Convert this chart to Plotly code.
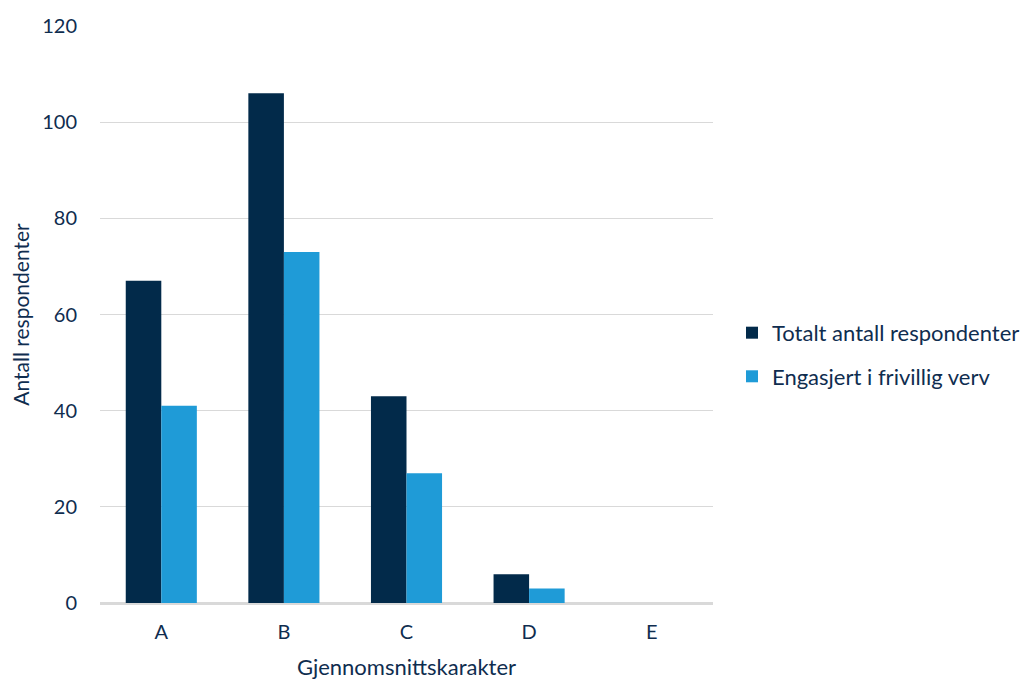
import plotly.graph_objects as go

categories = ["A", "B", "C", "D", "E"]
totalt = [67, 106, 43, 6, 0]
engasjert = [41, 73, 27, 3, 0]
series_names = ["Totalt antall respondenter", "Engasjert i frivillig verv"]
colors = ["#022a4a", "#1f9bd7"]
text_color = "#0f2d4f"
font_family = "Lato, 'Open Sans', sans-serif"

fig = go.Figure()
fig.add_trace(go.Bar(x=categories, y=totalt, name=series_names[0],
                     marker=dict(color=colors[0], line=dict(width=0)),
                     legendgroup="g1"))
fig.add_trace(go.Bar(x=categories, y=engasjert, name=series_names[1],
                     marker=dict(color=colors[1], line=dict(width=0)),
                     legendgroup="g2"))

fig.update_layout(
    width=1026, height=674,
    margin=dict(l=92, r=321, t=18, b=79, autoexpand=False),
    plot_bgcolor="white", paper_bgcolor="white",
    barmode="group", bargap=0.42, bargroupgap=0,
    font=dict(family=font_family, color=text_color, size=20),
    legend=dict(x=1.031, y=0.43, xanchor="left", yanchor="middle",
                font=dict(size=22, color=text_color),
                tracegroupgap=12, itemwidth=30),
    showlegend=True,
)
fig.update_xaxes(
    title=dict(text="Gjennomsnittskarakter", font=dict(size=22), standoff=18),
    showgrid=False, showline=True, linecolor="#d9d9d9", linewidth=1.5,
    ticks="", tickfont=dict(size=20), ticklabelstandoff=10, automargin=False,
)
fig.update_yaxes(
    title=dict(text="Antall respondenter", font=dict(size=21), standoff=10),
    range=[0, 120], dtick=20, showgrid=True, gridcolor="#d9d9d9", gridwidth=1,
    zeroline=True, zerolinecolor="#d9d9d9", ticks="", tickfont=dict(size=20),
    ticklabelstandoff=22, automargin=False,
)

fig.write_html("out.html")
